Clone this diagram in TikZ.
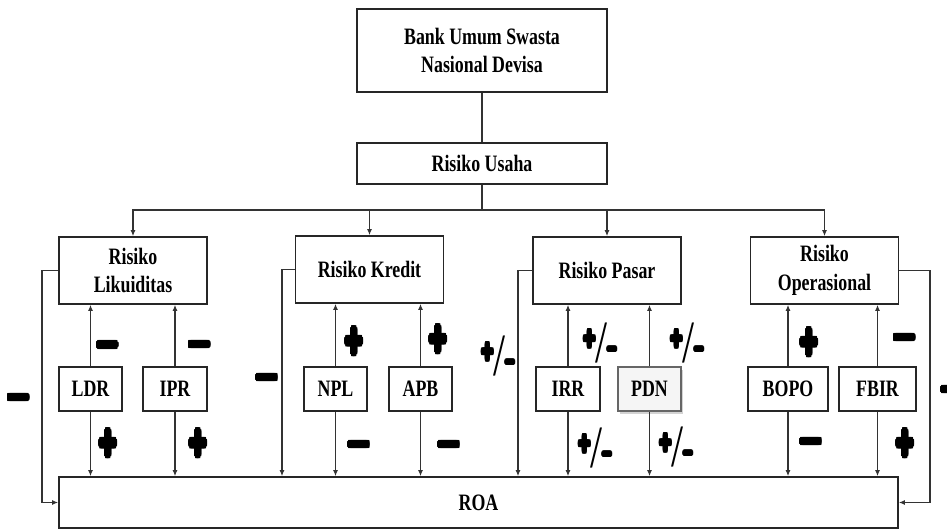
\documentclass[tikz,border=0pt]{standalone}
\usepackage{fontspec}
\setmainfont{Liberation Serif}[FakeStretch=0.76]
\newfontfamily\signfont{Liberation Sans}
\newfontfamily\slashfont{Liberation Serif}
\usepackage{graphicx}
\usepackage{contour}
\usetikzlibrary{positioning,arrows.meta,shadows}
\newcommand\bigplus{\scalebox{.72}[1.2]{\fontsize{41}{41}\selectfont\signfont\bfseries
  \contourlength{2.6pt}\raisebox{-.34em}[0pt][0pt]{\contour{black}{+}}}}
\newcommand\bigminus{\scalebox{.9}[1]{\fontsize{41}{41}\selectfont\signfont\bfseries
  \contourlength{2.4pt}\raisebox{-.255em}[0pt][0pt]{\contour{black}{–}}}}
\newcommand\plmin{\scalebox{.72}[1]{%
  \fontsize{28}{28}\selectfont\signfont\bfseries\contourlength{2pt}%
  \raisebox{-6.5pt}[0pt][0pt]{\scalebox{1}[1.15]{\contour{black}{+}}}%
  \fontsize{60}{60}\selectfont\slashfont\mdseries\raisebox{-19.8pt}[0pt][0pt]{/}%
  \fontsize{22}{22}\selectfont\signfont\bfseries\contourlength{2pt}%
  \raisebox{-13.5pt}[0pt][0pt]{\contour{black}{−}}}}
\tikzset{
  box/.style={draw=black!85,line width=1.6pt,fill=white,inner sep=0pt,align=center,
    font=\bfseries\fontsize{23.5}{28.5}\selectfont},
  bigbox/.style={box,minimum width=148pt,minimum height=67pt},
  smallbox/.style={box,minimum height=44pt},
  link/.style={draw=black!80,line width=1.4pt},
  arr/.style={link,-{Latex[length=6pt,width=5pt]}},
  sign/.style={inner sep=0pt}
}
\begin{document}
\begin{tikzpicture}[x=1pt,y=-1pt]
  \useasboundingbox (0,0) rectangle (947,530);
  % boxes
  \node[box,minimum width=250pt,minimum height=83pt] (bank) at (482,50.5) {Bank Umum Swasta\\Nasional Devisa};
  \node[box,minimum width=250pt,minimum height=41pt] (usaha) at (482,163.5) {Risiko Usaha};
  \node[bigbox] (lik) at (133,270.5) {Risiko\\Likuiditas};
  \node[bigbox] (kre) at (369.5,269.5) {Risiko Kredit};
  \node[bigbox] (pas) at (607,270.5) {Risiko Pasar};
  \node[bigbox] (ops) at (824.5,270.5) {Risiko\\Operasional};
  \node[smallbox,minimum width=63pt] (ldr) at (90.5,389) {LDR};
  \node[smallbox,minimum width=64pt] (ipr) at (175,389) {IPR};
  \node[smallbox,minimum width=63pt] (npl) at (335.5,389) {NPL};
  \node[smallbox,minimum width=63pt] (apb) at (420.5,389) {APB};
  \node[smallbox,minimum width=64pt] (irr) at (568,389) {IRR};
  \node[smallbox,minimum width=63pt,fill=black!4,draw=black!60,
    drop shadow={shadow xshift=2pt,shadow yshift=-3pt,opacity=.35}] (pdn) at (649.5,389) {PDN};
  \node[smallbox,minimum width=80pt] (bopo) at (788,389) {BOPO};
  \node[smallbox,minimum width=77pt] (fbir) at (877.5,389) {FBIR};
  \node[box,minimum width=839pt,minimum height=51pt] (roa) at (478.5,502.5) {ROA};
  % tree
  \coordinate (bus) at (482,210);
  \draw[link] (bank) -- (usaha);
  \draw[link] (usaha) -- (bus);
  \foreach \r in {lik,kre,pas,ops}
    \draw[arr] (bus) -| (\r);
  % indicators
  \foreach \i/\r in {ldr/lik,ipr/lik,npl/kre,apb/kre,irr/pas,pdn/pas,bopo/ops,fbir/ops} {
    \draw[arr] (\i) -- (\i |- \r.south);
    \draw[arr] (\i) -- (\i |- roa.north);
  }
  % direct effects
  \coordinate (likfb) at (42,270.5);
  \coordinate (krefb) at (282,269.5);
  \coordinate (pasfb) at (518,270.5);
  \coordinate (opsfb) at (930,270.5);
  \draw[arr] (lik.west) -- (likfb) |- (roa.west);
  \draw[arr] (kre.west) -- (krefb) -- (krefb |- roa.north);
  \draw[arr] (pas.west) -- (pasfb) -- (pasfb |- roa.north);
  \draw[arr] (ops.east) -- (opsfb) |- (roa.east);
  % signs
  \node[sign] (s-lik) at (18.5,398) {\bigminus};
  \node[sign] (s-ldr1) at (107.5,345.5) {\bigminus};
  \node[sign] (s-ldr2) at (108,443) {\bigplus};
  \node[sign] (s-ipr1) at (199.5,345) {\bigminus};
  \node[sign] (s-ipr2) at (198,443) {\bigplus};
  \node[sign] (s-kre) at (267,378) {\bigminus};
  \node[sign] (s-npl1) at (354,341) {\bigplus};
  \node[sign] (s-npl2) at (359,445) {\bigminus};
  \node[sign] (s-apb1) at (438,339) {\bigplus};
  \node[sign] (s-apb2) at (449,445) {\bigminus};
  \node[sign] (s-pas) at (498,356) {\plmin};
  \node[sign] (s-irr1) at (600,343) {\plmin};
  \node[sign] (s-irr2) at (595,448) {\plmin};
  \node[sign] (s-pdn1) at (687,343) {\plmin};
  \node[sign] (s-pdn2) at (676,447) {\plmin};
  \node[sign] (s-bopo1) at (809,342) {\bigplus};
  \node[sign] (s-bopo2) at (811,442) {\bigminus};
  \node[sign] (s-fbir1) at (904.5,338) {\bigminus};
  \node[sign] (s-fbir2) at (905,443) {\bigplus};
  \node[sign] (s-ops) at (952,390) {\bigminus};
\end{tikzpicture}
\end{document}
